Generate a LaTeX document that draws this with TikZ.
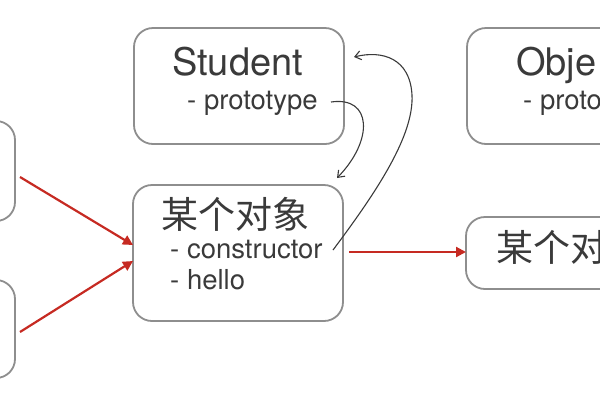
\documentclass[tikz,border=0pt]{standalone}
\usepackage{fontspec}
\setmainfont{TeX Gyre Heros}
\newfontfamily\cjk{Noto Sans CJK SC}
\usetikzlibrary{arrows.meta}
\definecolor{boxgray}{HTML}{8E8E8E}
\definecolor{txtgray}{HTML}{3A3A3A}
\definecolor{redarr}{HTML}{C62A22}
\tikzset{
  box/.style={draw=boxgray, line width=1.8pt, rounded corners=19pt, fill=white, inner sep=0pt},
  title/.style={anchor=base west, inner sep=0pt, text=txtgray, font=\fontsize{38}{42}\selectfont},
  ctitle/.style={anchor=base west, inner sep=0pt, text=txtgray, font=\cjk\fontsize{37}{42}\selectfont},
  item/.style={anchor=base west, inner sep=0pt, text=txtgray, font=\fontsize{27.5}{31}\selectfont},
  redline/.style={draw=redarr, line width=2.2pt, -{Triangle[length=10pt,width=10pt]}},
  curve/.style={draw=txtgray, line width=1.1pt, -{Straight Barb[length=6pt,width=9pt]}}
}
\begin{document}
\begin{tikzpicture}[x=1pt,y=-1pt]
\useasboundingbox (0,0) rectangle (600,400);
\clip (0,0) rectangle (600,400);
% boxes
\node[box, minimum width=210pt, minimum height=116pt] (student) at (239,86) {};
\node[box, minimum width=210pt, minimum height=136pt] (obj) at (238,253) {};
\node[box, minimum width=210pt, minimum height=116pt] (object) at (572,86) {};
\node[box, minimum width=210pt, minimum height=72pt] (obj2) at (571,253) {};
\node[box, minimum width=200pt, minimum height=100pt] (lt) at (-85,171) {};
\node[box, minimum width=200pt, minimum height=98pt] (lb) at (-85,329) {};
% texts
\node[title] (tstudent) at (172,75) {Student};
\node[item] (tproto) at (187,109) {- prototype};
\node[title] (tobject) at (516,75) {Obje};
\node[item] (tproto2) at (523,109) {- proto};
\node[ctitle] (tobj) at (161,228) {某个对象};
\node[item] (tcons) at (170,258) {- constructor};
\node[item] (thello) at (170,289) {- hello};
\node[ctitle] (tobj2) at (496,261) {某个对};
% connector end points
\coordinate (a1s) at (20,177);
\coordinate (a1e) at (133,245);
\coordinate (a2s) at (20,332);
\coordinate (a2e) at (133,261);
\coordinate (a3s) at (349,252);
\coordinate (a3e) at (466,252);
\coordinate (c1s) at (331,102);
\coordinate (c1e) at (337,178);
\coordinate (c2s) at (333,250);
\coordinate (c2m) at (412,95);
\coordinate (c2e) at (354,57);
% red arrows
\draw[redline] (a1s) -- (a1e);
\draw[redline] (a2s) -- (a2e);
\draw[redline] (a3s) -- (a3e);
% curved arrows
\draw[curve] (c1s) .. controls (372,96) and (374,140) .. (c1e);
\draw[curve] (c2s) .. controls (378,190) and (414,135) .. (c2m) .. controls (410,58) and (382,50) .. (c2e);
\end{tikzpicture}
\end{document}
